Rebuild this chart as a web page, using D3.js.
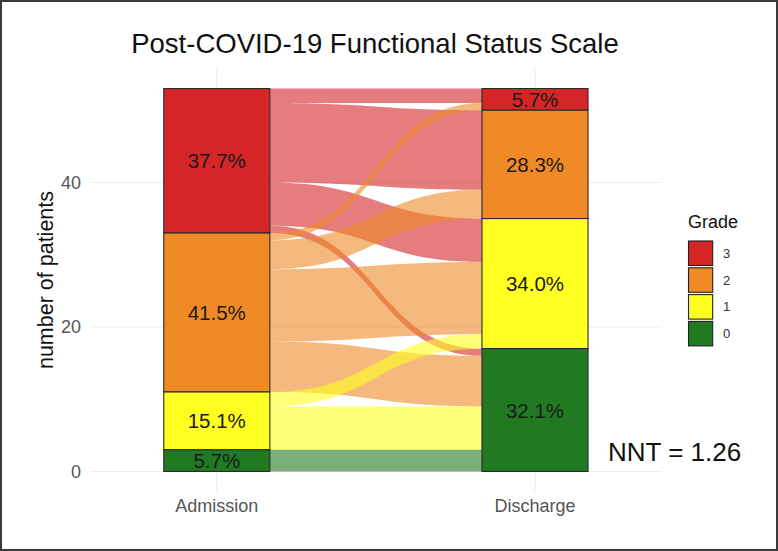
<!DOCTYPE html>
<html>
<head>
<meta charset="utf-8">
<script src="https://cdn.jsdelivr.net/npm/d3@7"></script>
<style>
  html, body { margin: 0; padding: 0; background: #fff; }
  svg { display: block; font-family: "Liberation Sans", Arial, sans-serif; }
</style>
</head>
<body>
<svg id="chart" width="778" height="551"></svg>
<script>
// ---- data ----
const timepoints = ["Admission", "Discharge"];
const grades = ["3", "2", "1", "0"];              // top to bottom
const gradeColors = ["#D42528", "#EF8A26", "#FFFF22", "#217A21"];
const admissionCounts = [20, 22, 8, 3];
const dischargeCounts = [3, 15, 18, 17];
const flowFrom = ["3", "3", "3", "3", "2", "2", "2", "2", "1", "1", "0"];
const flowTo   = ["3", "2", "1", "0", "3", "2", "1", "0", "1", "0", "0"];
const flowN    = [2, 11, 6, 1, 1, 4, 10, 7, 2, 6, 3];
const yTicks = [0, 20, 40];
const titleText = "Post-COVID-19 Functional Status Scale";
const yLabel = "number of patients";
const legendTitle = "Grade";
const nntText = "NNT = 1.26";

// ---- layout ----
const svg = d3.select("#chart");
const W = 778, H = 551;
const panel = { left: 90, right: 662, top: 69.4, bottom: 490.6 };
const total = d3.sum(admissionCounts);
const expand = total * 0.05;

const y = d3.scaleLinear().domain([-expand, total + expand]).range([panel.bottom, panel.top]);
const x = d3.scalePoint().domain(timepoints).range([216.8, 535]);
const stratumW = (x("Discharge") - x("Admission")) / 3;
const color = d3.scaleOrdinal().domain(grades).range(gradeColors);

svg.append("rect").attr("width", W).attr("height", H).attr("fill", "#fff");

// gridlines
const grid = svg.append("g");
grid.selectAll("line.h").data(yTicks).join("line")
  .attr("x1", panel.left).attr("x2", panel.right)
  .attr("y1", d => y(d)).attr("y2", d => y(d))
  .attr("stroke", "#EBEBEB").attr("stroke-width", 1.1);
grid.selectAll("line.v").data(timepoints).join("line")
  .attr("x1", d => x(d)).attr("x2", d => x(d))
  .attr("y1", panel.top).attr("y2", panel.bottom)
  .attr("stroke", "#EBEBEB").attr("stroke-width", 1.1);

// stack strata (bottom-up: reverse of grades)
function stackStrata(counts) {
  const out = {};
  let cum = 0;
  for (let i = grades.length - 1; i >= 0; i--) {
    out[grades[i]] = { y0: cum, y1: cum + counts[i], n: counts[i] };
    cum += counts[i];
  }
  return out;
}
const admS = stackStrata(admissionCounts);
const disS = stackStrata(dischargeCounts);

// flows: within admission stratum ordered top-down by destination grade; within discharge by source grade
const flows = flowN.map((n, i) => ({ from: flowFrom[i], to: flowTo[i], n }));
const admCursor = {}, disCursor = {};
grades.forEach(g => { admCursor[g] = admS[g].y1; disCursor[g] = disS[g].y1; });
const rank = g => grades.indexOf(g);
// admission side
grades.forEach(g => {
  flows.filter(f => f.from === g).sort((a, b) => rank(a.to) - rank(b.to)).forEach(f => {
    f.a1 = admCursor[g]; f.a0 = admCursor[g] - f.n; admCursor[g] = f.a0;
  });
  flows.filter(f => f.to === g).sort((a, b) => rank(a.from) - rank(b.from)).forEach(f => {
    f.d1 = disCursor[g]; f.d0 = disCursor[g] - f.n; disCursor[g] = f.d0;
  });
});

const x0 = x("Admission") + stratumW / 2;
const x1 = x("Discharge") - stratumW / 2;
const xm = (x0 + x1) / 2;
function flowPath(f) {
  const p = d3.path();
  p.moveTo(x0, y(f.a1));
  p.bezierCurveTo(xm, y(f.a1), xm, y(f.d1), x1, y(f.d1));
  p.lineTo(x1, y(f.d0));
  p.bezierCurveTo(xm, y(f.d0), xm, y(f.a0), x0, y(f.a0));
  p.closePath();
  return p.toString();
}
svg.append("g").selectAll("path").data(flows).join("path")
  .attr("d", flowPath)
  .attr("fill", f => color(f.from))
  .attr("fill-opacity", 0.6);

// strata
const strataData = [];
grades.forEach((g, i) => {
  strataData.push({ t: "Admission", g, ...admS[g] });
  strataData.push({ t: "Discharge", g, ...disS[g] });
});
const sg = svg.append("g");
sg.selectAll("rect").data(strataData.filter(d => d.n > 0)).join("rect")
  .attr("x", d => x(d.t) - stratumW / 2)
  .attr("width", stratumW)
  .attr("y", d => y(d.y1))
  .attr("height", d => y(d.y0) - y(d.y1))
  .attr("fill", d => color(d.g))
  .attr("stroke", "#2a2a2a").attr("stroke-width", 1.1);
sg.selectAll("text").data(strataData.filter(d => d.n > 0)).join("text")
  .attr("x", d => x(d.t))
  .attr("y", d => y((d.y0 + d.y1) / 2) + 7.5)
  .attr("text-anchor", "middle")
  .attr("font-size", 20.5)
  .attr("fill", "#1a1a1a")
  .text(d => (d.n / total * 100).toFixed(1) + "%");

// axes text
svg.append("g").selectAll("text").data(yTicks).join("text")
  .attr("x", 81).attr("y", d => y(d) + 6.5)
  .attr("text-anchor", "end").attr("font-size", 18).attr("fill", "#555")
  .text(d => d);
svg.append("g").selectAll("text").data(timepoints).join("text")
  .attr("x", d => x(d)).attr("y", 512)
  .attr("text-anchor", "middle").attr("font-size", 18).attr("fill", "#555")
  .text(d => d);
svg.append("text")
  .attr("transform", `translate(52.5, ${(panel.top + panel.bottom) / 2}) rotate(-90)`)
  .attr("text-anchor", "middle").attr("font-size", 21.5).attr("fill", "#111")
  .text(yLabel);

// title
svg.append("text")
  .attr("x", (panel.left + panel.right) / 2 - 1).attr("y", 53.3)
  .attr("text-anchor", "middle").attr("font-size", 27.5).attr("fill", "#111")
  .text(titleText);

// legend
const lg = svg.append("g");
lg.append("text").attr("x", 688).attr("y", 228.3).attr("font-size", 18).attr("fill", "#111").text(legendTitle);
const keyH = 24.5, pitch = 26.8, key0 = 241;
lg.selectAll("rect").data(grades).join("rect")
  .attr("x", 688.5).attr("y", (d, i) => key0 + i * pitch)
  .attr("width", 24.2).attr("height", keyH)
  .attr("fill", d => color(d)).attr("stroke", "#222").attr("stroke-width", 1.1);
lg.selectAll("text.lab").data(grades).join("text").attr("class", "lab")
  .attr("x", 723).attr("y", (d, i) => key0 + i * pitch + keyH / 2 + 4.6)
  .attr("font-size", 13).attr("fill", "#333")
  .text(d => d);

// NNT annotation
svg.append("text").attr("x", 608).attr("y", 461).attr("font-size", 26).attr("fill", "#111").text(nntText);

// outer border
svg.append("rect").attr("x", 1).attr("y", 1).attr("width", W - 2).attr("height", H - 2)
  .attr("fill", "none").attr("stroke", "#3a3a3a").attr("stroke-width", 2);
</script>
</body>
</html>
